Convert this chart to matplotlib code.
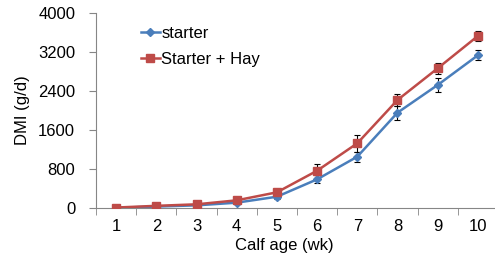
import matplotlib.pyplot as plt
import matplotlib
from matplotlib.lines import Line2D
import numpy as np

matplotlib.rcParams['font.family'] = ['Liberation Sans', 'DejaVu Sans']

weeks = [1, 2, 3, 4, 5, 6, 7, 8, 9, 10]
starter = [5, 30, 55, 110, 232, 588, 1053, 1955, 2523, 3132]
starter_err = [10, 15, 20, 30, 45, 85, 100, 145, 140, 100]
hay = [10, 45, 76, 158, 322, 765, 1327, 2215, 2865, 3528]
hay_err = [10, 15, 20, 30, 40, 140, 170, 120, 110, 95]

blue = '#4A7EBB'
red = '#BE4B48'
gray = '#868686'

fig = plt.figure(figsize=(4.95, 2.54), dpi=100)
ax = fig.add_axes([0.194, 0.181, 0.812, 0.768])

ax.errorbar(weeks, starter, yerr=starter_err, color=blue, marker='D', markersize=4,
            linewidth=1.8, ecolor='black', elinewidth=0.8, capsize=2, capthick=0.8,
            zorder=3)
ax.errorbar(weeks, hay, yerr=hay_err, color=red, marker='s', markersize=6,
            linewidth=1.8, ecolor='black', elinewidth=0.8, capsize=2, capthick=0.8,
            zorder=3)

ax.set_xlim(0.5, 10.5)
ax.set_ylim(0, 4000)
ax.set_yticks([0, 800, 1600, 2400, 3200, 4000])
ax.set_xticks(weeks)
ax.set_xticks(np.arange(0.5, 11, 1), minor=True)
ax.tick_params(axis='x', which='major', length=0, labelsize=12, pad=8)
ax.tick_params(axis='x', which='minor', length=5, color=gray, direction='out')
ax.tick_params(axis='y', length=5, color=gray, labelsize=12, pad=10)

for s in ['top', 'right']:
    ax.spines[s].set_visible(False)
for s in ['left', 'bottom']:
    ax.spines[s].set_color(gray)

ax.set_ylabel('DMI (g/d)', fontsize=12, labelpad=6)
fig.text(0.575, 0.004, 'Calf age (wk)', fontsize=12, ha='center', va='bottom')

handles = [Line2D([], [], color=blue, marker='D', markersize=4, linewidth=1.8),
           Line2D([], [], color=red, marker='s', markersize=6, linewidth=1.8)]
ax.legend(handles, ['starter', 'Starter + Hay'], loc='upper left',
          bbox_to_anchor=(0.075, 1.01), frameon=False, fontsize=12,
          handlelength=1.1, handletextpad=0.1, labelspacing=0.65)

plt.savefig('out.png', dpi=100)
